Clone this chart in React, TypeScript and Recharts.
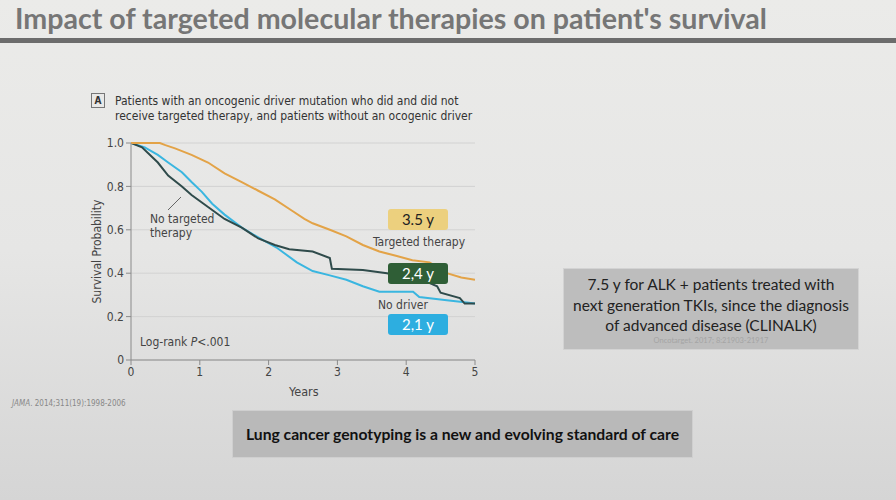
import { LineChart, Line, XAxis, YAxis, CartesianGrid } from 'recharts';

// Kaplan-Meier curves (years, survival probability)
const targetedYears = [0, 0.42, 0.5, 0.64, 0.88, 1.12, 1.36, 1.61, 1.85, 2.09, 2.33, 2.52, 2.64, 2.89, 3.13, 3.37, 3.61, 3.85, 4.09, 4.34, 4.59, 4.8, 5.0];
const targetedSurv = [1.0, 1.0, 0.99, 0.975, 0.945, 0.91, 0.86, 0.82, 0.78, 0.74, 0.69, 0.65, 0.63, 0.6, 0.57, 0.53, 0.5, 0.48, 0.46, 0.45, 0.4, 0.38, 0.37];

const noTargetedYears = [0, 0.16, 0.39, 0.54, 0.74, 0.88, 1.12, 1.36, 1.61, 1.85, 2.09, 2.3, 2.64, 2.89, 2.92, 3.37, 3.72, 4.0, 4.3, 4.45, 4.5, 4.78, 4.85, 5.0];
const noTargetedSurv = [1.0, 0.98, 0.91, 0.85, 0.8, 0.76, 0.705, 0.65, 0.61, 0.56, 0.53, 0.51, 0.5, 0.47, 0.42, 0.415, 0.4, 0.38, 0.36, 0.34, 0.31, 0.285, 0.26, 0.26];

const noDriverYears = [0, 0.2, 0.39, 0.54, 0.74, 0.88, 1.03, 1.18, 1.36, 1.61, 1.85, 2.13, 2.41, 2.64, 2.89, 3.13, 3.37, 3.61, 4.1, 4.19, 4.59, 4.88, 5.0];
const noDriverSurv = [1.0, 0.98, 0.945, 0.91, 0.865, 0.82, 0.775, 0.72, 0.67, 0.61, 0.565, 0.515, 0.45, 0.41, 0.39, 0.37, 0.34, 0.315, 0.315, 0.29, 0.275, 0.265, 0.26];

const xTicks = [0, 1, 2, 3, 4, 5];
const yTicks = [0, 0.2, 0.4, 0.6, 0.8, 1.0];

const toRows = (years: number[], surv: number[]) => years.map((year, i) => ({ year, surv: surv[i] }));

const narrow = '"Liberation Sans Narrow", "DejaVu Sans Condensed", sans-serif';
const slide = 'Lato, "Open Sans", sans-serif';

function YLabel(props: any) {
  const { viewBox } = props;
  const cx = 97;
  const cy = viewBox.y + viewBox.height / 2;
  return (
    <text x={cx} y={cy} transform={`rotate(-90 ${cx} ${cy})`} textAnchor="middle" dominantBaseline="middle" fontSize={12} fill="#444" fontFamily={narrow}>
      Survival Probability
    </text>
  );
}

function Badge({ left, top, bg, color, text }: { left: number; top: number; bg: string; color: string; text: string }) {
  return (
    <div
      style={{
        position: 'absolute', left, top, width: 60, height: 21, background: bg, color,
        borderRadius: 3, fontFamily: slide, fontSize: 15, lineHeight: '21px', textAlign: 'center',
      }}
    >
      {text}
    </div>
  );
}

export default function App() {
  const label = (left: number, top: number, text: React.ReactNode, extra: any = {}) => (
    <div style={{ position: 'absolute', left, top, fontFamily: narrow, fontSize: 12, color: '#444', whiteSpace: 'nowrap', ...extra }}>{text}</div>
  );
  return (
    <div style={{ position: 'absolute', left: 0, top: 0, width: 896, height: 500, overflow: 'hidden', background: 'linear-gradient(#ebebe9 0%, #e6e6e5 50%, #d5d5d5 100%)' }}>
      <div style={{ position: 'absolute', left: 15, top: 1, fontFamily: slide, fontWeight: 700, fontSize: 28.6, color: '#767676', whiteSpace: 'nowrap' }}>
        Impact of targeted molecular therapies on patient's survival
      </div>
      <div style={{ position: 'absolute', left: 0, top: 38, width: 896, height: 5, background: '#6c6c6c' }} />

      {/* panel caption */}
      <div style={{ position: 'absolute', left: 91, top: 93, width: 12, height: 13, border: '1px solid #777', fontFamily: narrow, fontSize: 10, fontWeight: 700, textAlign: 'center', lineHeight: '13px', color: '#333' }}>A</div>
      {label(115, 94, 'Patients with an oncogenic driver mutation who did and did not', { color: '#333' })}
      {label(115, 109, 'receive targeted therapy, and patients without an ocogenic driver', { color: '#333' })}

      <div style={{ position: 'absolute', left: 0, top: 0 }}>
        <LineChart width={896} height={500} margin={{ top: 143, right: 421, bottom: 110, left: 0 }}>
          <CartesianGrid vertical={false} stroke="#d2d2d2" />
          <XAxis
            dataKey="year" type="number" domain={[0, 5]} ticks={xTicks} height={30}
            axisLine={{ stroke: '#8a8a8a' }} tickLine={{ stroke: '#8a8a8a' }} tickSize={5}
            tick={{ fontSize: 12, fill: '#444', fontFamily: narrow }} allowDataOverflow
          />
          <YAxis
            dataKey="surv" type="number" domain={[0, 1]} ticks={yTicks} width={131}
            axisLine={{ stroke: '#8a8a8a' }} tickLine={{ stroke: '#8a8a8a' }} tickSize={5}
            tickFormatter={(v: number) => (v === 0 ? '0' : v.toFixed(1))}
            tick={{ fontSize: 12, fill: '#444', fontFamily: narrow }}
            label={<YLabel />}
          />
          <Line data={toRows(noDriverYears, noDriverSurv)} dataKey="surv" type="linear" stroke="#3ab6e0" strokeWidth={2} dot={false} isAnimationActive={false} />
          <Line data={toRows(noTargetedYears, noTargetedSurv)} dataKey="surv" type="linear" stroke="#2f4b4b" strokeWidth={2} dot={false} isAnimationActive={false} />
          <Line data={toRows(targetedYears, targetedSurv)} dataKey="surv" type="linear" stroke="#e3a347" strokeWidth={2} dot={false} isAnimationActive={false} />
        </LineChart>
      </div>

      {label(289, 384, 'Years', { fontSize: 12.5 })}
      {label(150, 212, 'No targeted')}
      {label(150, 226, 'therapy')}
      <svg style={{ position: 'absolute', left: 0, top: 0 }} width={896} height={500}>
        <line x1={181} y1={197} x2={168} y2={210} stroke="#666" strokeWidth={1} />
      </svg>
      {label(140, 335, <span>Log-rank <i>P</i>&lt;.001</span>)}
      {label(373, 235, 'Targeted therapy')}
      {label(378, 298, 'No driver')}

      <Badge left={388} top={209} bg="#ecd07e" color="#222" text="3.5 y" />
      <Badge left={388} top={263} bg="#2f5e36" color="#fff" text="2,4 y" />
      <Badge left={388} top={314} bg="#2daee0" color="#fff" text="2,1 y" />

      <div style={{ position: 'absolute', left: 12, top: 399, fontFamily: narrow, fontSize: 8, color: '#888' }}>
        <i>JAMA</i>. 2014;311(19):1998-2006
      </div>

      <div style={{ position: 'absolute', left: 563, top: 268, width: 294, height: 80, background: '#bdbdbd', border: '1px solid #d3d3d3', fontFamily: slide, fontSize: 15.5, color: '#222', textAlign: 'center' }}>
        <div style={{ marginTop: 5, lineHeight: '20.5px' }}>
          7.5 y for ALK + patients treated with<br />next generation TKIs, since the diagnosis<br />of advanced disease (CLINALK)
        </div>
        <div style={{ fontSize: 7.5, color: '#a4a4a4', marginTop: 0 }}>Oncotarget. 2017; 8:21903-21917</div>
      </div>

      <div style={{ position: 'absolute', left: 232, top: 410, width: 459, height: 46, background: '#b9b9b9', border: '1px solid #cfcfcf', fontFamily: slide, fontWeight: 700, fontSize: 15.7, color: '#111', textAlign: 'center', lineHeight: '46px' }}>
        Lung cancer genotyping is a new and evolving standard of care
      </div>
    </div>
  );
}
